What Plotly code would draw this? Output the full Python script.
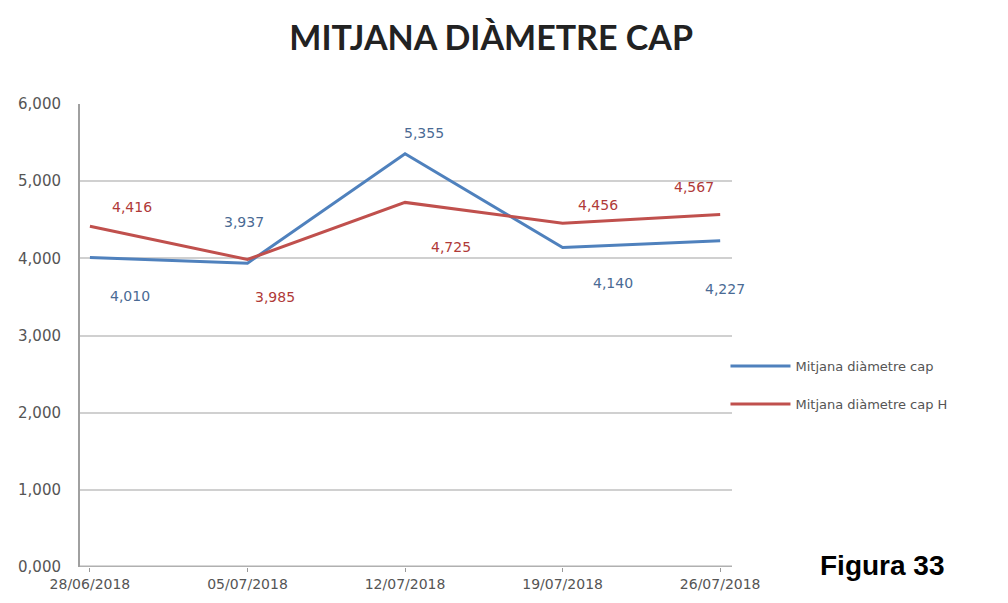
import plotly.graph_objects as go

dates = ["28/06/2018", "05/07/2018", "12/07/2018", "19/07/2018", "26/07/2018"]
serie_a = [4.010, 3.937, 5.355, 4.140, 4.227]
serie_b = [4.416, 3.985, 4.725, 4.456, 4.567]
names = ["Mitjana diàmetre cap", "Mitjana diàmetre cap H"]
y_ticks = [0, 1, 2, 3, 4, 5, 6]

def fmt(v):
    return f"{v:.3f}".replace(".", ",")

# label offsets (pixels) for data labels
off_a = [(40, -38), (-3, 41), (19, 21), (50, -35), (5, -48)]
off_b = [(42, 19), (28, -38), (46, -45), (35, 18), (-26, 28)]

xs = list(range(len(dates)))
blue = "#4F81BD"
red = "#C0504D"
tfont = "DejaVu Sans"

fig = go.Figure()
fig.add_trace(go.Scatter(x=xs, y=serie_a, mode="lines", name=names[0], legendgroup="a",
                         line=dict(color=blue, width=3)))
fig.add_trace(go.Scatter(x=xs, y=serie_b, mode="lines", name=names[1], legendgroup="b",
                         line=dict(color=red, width=3)))

ann = []
for vals, offs, col in [(serie_a, off_a, "#4A6A94"), (serie_b, off_b, "#B03A38")]:
    for x, v, (dx, dy) in zip(xs, vals, offs):
        ann.append(dict(x=x, y=v, xref="x", yref="y", text=fmt(v), showarrow=False,
                        xshift=dx, yshift=dy,
                        font=dict(family=tfont, size=14, color=col)))
ann.append(dict(x=1.23, y=0.004, xref="paper", yref="paper", text="<b>Figura 33</b>",
                xanchor="center", yanchor="middle",
                showarrow=False, font=dict(family="Liberation Sans", size=28, color="#000")))

fig.update_layout(
    width=992, height=587,
    margin=dict(l=72, r=268, t=96, b=28),
    paper_bgcolor="white", plot_bgcolor="white",
    title=dict(text="<b>MITJANA DIÀMETRE CAP</b>", x=0.487, xanchor="center",
               y=1 - 30 / 587, yanchor="middle",
               font=dict(family="Lato", size=34, color="#222")),
    xaxis=dict(tickmode="array", tickvals=xs, ticktext=dates, range=[-0.063, 4.075],
               showgrid=False, zeroline=False, showline=False,
               ticks="outside", ticklen=4, tickcolor="#999", ticklabelstandoff=0,
               tickfont=dict(family=tfont, size=14, color="#555"), automargin=False),
    yaxis=dict(tickmode="array", tickvals=y_ticks, ticktext=[fmt(t) for t in y_ticks],
               range=[0, 6], showgrid=True, gridcolor="#D0D0D0", gridwidth=1.5,
               zeroline=False, showline=True, linecolor="#A0A0A0", linewidth=2,
               ticks="", ticklabelstandoff=14, automargin=False,
               tickfont=dict(family=tfont, size=15, color="#555")),
    legend=dict(x=0.99, y=0.393, xanchor="left", yanchor="middle",
                bgcolor="rgba(0,0,0,0)",
                font=dict(family=tfont, size=13, color="#555"),
                tracegroupgap=18, itemwidth=60),
    showlegend=True,
    annotations=ann,
)
fig.add_shape(type="line", xref="paper", yref="y", x0=0, x1=1, y0=0, y1=0,
              line=dict(color="#B0B0B0", width=3))
fig.write_html("out.html")
